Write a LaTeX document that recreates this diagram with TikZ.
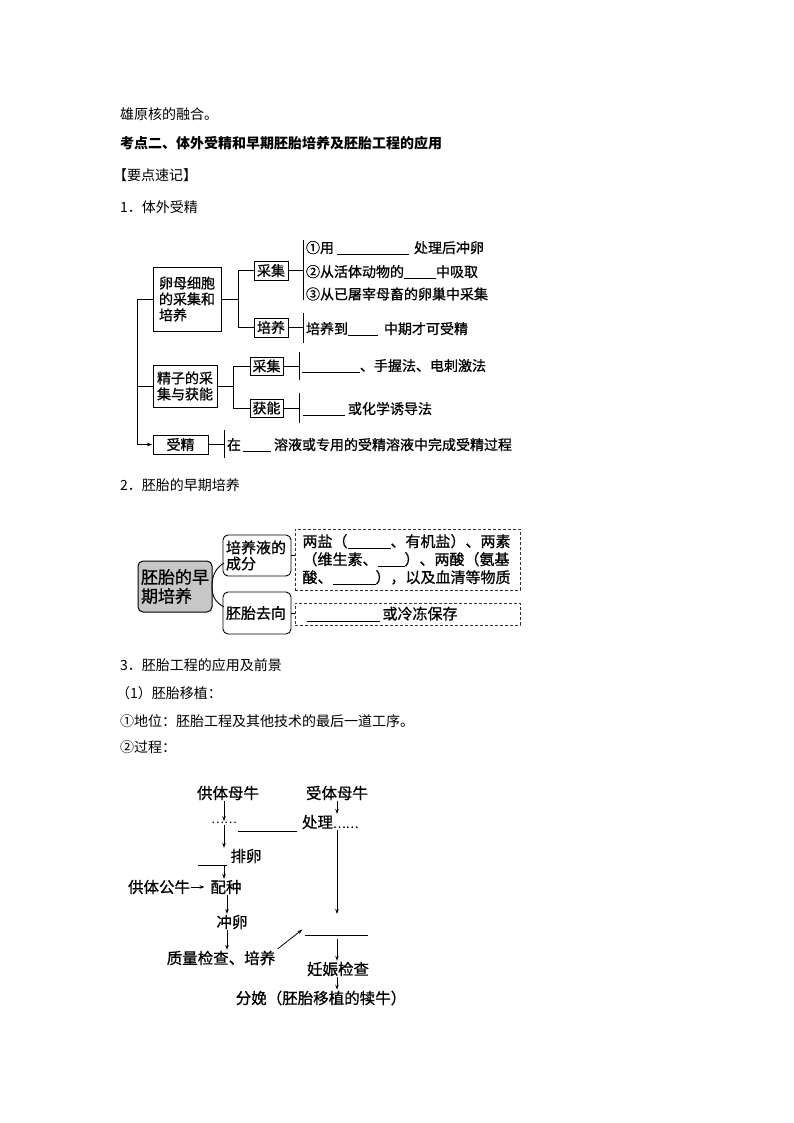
\documentclass[tikz,border=0pt]{standalone}
\usepackage{fontspec}
\setmainfont{Noto Sans CJK SC}
\newfontfamily\dgm[FakeBold=0.8]{Noto Sans CJK SC}
\usetikzlibrary{arrows.meta,calc}
\newcommand\blk[1]{\rule[-2pt]{#1pt}{0.7pt}}
\begin{document}
\begin{tikzpicture}[x=1pt,y=-1pt,
  every node/.style={inner sep=0pt,outer sep=0pt},
  ln/.style={line width=0.9pt},
  arr/.style={line width=0.8pt,-{Stealth[length=5pt,width=3.6pt]},shorten <=1pt,shorten >=1pt},
  txt/.style={anchor=west,font=\dgm\fontsize{14}{16}\selectfont},
  bodytxt/.style={anchor=west,font=\fontsize{14}{16}\selectfont},
  sbox/.style={draw,line width=0.9pt,minimum width=34pt,minimum height=19pt,font=\dgm\fontsize{14}{16}\selectfont},
  bbox/.style={draw,line width=0.9pt,align=left,font=\dgm\fontsize{14}{16}\selectfont},
  rbox/.style={draw,line width=0.9pt,rounded corners=5pt,align=left,font=\dgm\fontsize{15}{16}\selectfont},
  dbox/.style={draw=black!80,line width=0.9pt,dash pattern=on 3pt off 2pt,align=left,font=\dgm\fontsize{15}{18}\selectfont},
  ftxt/.style={font=\dgm\fontsize{15.5}{17}\selectfont},
]
\useasboundingbox (0,0) rectangle (794,1123);

% ---------- header texts ----------
\node[bodytxt] (h1) at (120,114) {雄原核的融合。};
\node[bodytxt,font=\fontsize{14}{16}\selectfont\bfseries] (h2) at (120,143) {考点二、体外受精和早期胚胎培养及胚胎工程的应用};
\node[bodytxt] (h3) at (113,175) {【要点速记】};
\node[bodytxt] (h4) at (120,207) {1．体外受精};

% ---------- diagram 1 ----------
\coordinate (tr) at (137,0);
\coordinate (b1) at (238,0);
\coordinate (b2) at (233,0);

\node[bbox,text width=56pt,inner xsep=6pt,minimum height=64pt] (lm) at (187,299) {卵母细胞\\的采集和\\培养};
\node[bbox,text width=56pt,inner xsep=4pt,minimum height=42pt] (jz) at (185,386) {精子的采\\集与获能};
\node[sbox,minimum width=55pt] (sjing) at (180.5,444.5) {受精};
\node[sbox] (cj1) at (271,270.5) {采集};
\node[sbox] (py) at (271,327.5) {培养};
\node[sbox,minimum width=33pt,minimum height=18pt] (cj2) at (266.5,366) {采集};
\node[sbox,minimum width=33pt,minimum height=18pt] (hn) at (266.5,408) {获能};

\draw[ln] (lm.west) -- (lm.west -| tr);
\draw[ln] (jz.west) -- (jz.west -| tr);
\draw[arr,shorten <=0pt] (lm.west -| tr) |- (sjing.west);
\draw[ln] (lm.east) -- (lm.east -| b1);
\draw[ln] (cj1.west) -- (cj1.west -| b1) -- (py.west -| b1) -- (py.west);
\draw[ln] (jz.east) -- (jz.east -| b2);
\draw[ln] (cj2.west) -- (cj2.west -| b2) -- (hn.west -| b2) -- (hn.west);

\coordinate (r1a) at (303,240); \coordinate (r1b) at (303,300);
\coordinate (r2a) at (303,313); \coordinate (r2b) at (303,343);
\coordinate (r3a) at (299,352); \coordinate (r3b) at (299,380);
\coordinate (r4a) at (299,393); \coordinate (r4b) at (299,423);
\coordinate (r5a) at (224,430); \coordinate (r5b) at (224,458);
\draw[ln] (r1a) -- (r1b);
\draw[ln] (r2a) -- (r2b);
\draw[ln] (r3a) -- (r3b);
\draw[ln] (r4a) -- (r4b);
\draw[ln] (r5a) -- (r5b);
\draw[ln] (cj1.east) -- (cj1.east -| r1a);
\draw[ln] (py.east) -- (py.east -| r2a);
\draw[ln] (cj2.east) -- (cj2.east -| r3a);
\draw[ln] (hn.east) -- (hn.east -| r4a);
\draw[ln] (sjing.east) -- (sjing.east -| r5a);

\node[txt] (t1) at (306,248) {①用\hspace{3pt}\blk{72}\hspace{5pt}处理后冲卵};
\node[txt] (t2) at (306,272) {②从活体动物的\blk{32}中吸取};
\node[txt] (t3) at (306,294) {③从已屠宰母畜的卵巢中采集};
\node[txt] (t4) at (306,329) {培养到\blk{30}\hspace{6pt}中期才可受精};
\node[txt] (t5) at (302,366) {\blk{58}、手握法、电刺激法};
\node[txt] (t6) at (303,409) {\blk{42}\hspace{3pt}或化学诱导法};
\node[txt] (t7) at (227,445) {在\hspace{2pt}\blk{28}\hspace{3pt}溶液或专用的受精溶液中完成受精过程};

% ---------- section 2 ----------
\node[bodytxt] (h5) at (120,485) {2．胚胎的早期培养};

\node[draw,line width=1pt,rounded corners=5pt,fill=black!22,minimum width=74pt,minimum height=51pt,text width=68pt,align=left,font=\dgm\fontsize{17}{19}\selectfont] (gb) at (175,586.5) {胚胎的早\\期培养};
\node[rbox,minimum width=68pt,minimum height=41pt,text width=62pt] (pa) at (257,555.5) {培养液的\\成分};
\node[rbox,minimum width=68pt,minimum height=42pt,text width=62pt] (pb) at (257,613) {胚胎去向};
\node[dbox,minimum width=225pt,minimum height=61pt,text width=210pt] (pc) at (407.5,559.5) {两盐（\blk{43}、有机盐）、两素\\（维生素、\blk{27}）、两酸（氨基\\酸、\blk{43}），以及血清等物质};
\node[dbox,minimum width=225pt,minimum height=22pt,text width=210pt] (pd) at (407.5,614) {\hspace{4pt}\blk{73}\hspace{3pt}或冷冻保存};

\draw[ln] (pa.east) -- (pa.east -| pc.west);
\draw[ln] (pb.east) -- (pb.east -| pd.west);
\coordinate (ca) at (224,563);
\coordinate (cb) at (224,607);
\draw[ln] (ca) .. controls (214,569) and (212,578) .. (gb.east) .. controls (212,596) and (215,602) .. (cb);

% ---------- section 3 ----------
\node[bodytxt] (h6) at (120,665) {3．胚胎工程的应用及前景};
\node[bodytxt] (h7) at (116,693) {（1）胚胎移植：};
\node[bodytxt] (h8) at (120,721) {①地位：胚胎工程及其他技术的最后一道工序。};
\node[bodytxt] (h9) at (120,747) {②过程：};

\coordinate (lc) at (224,0);
\coordinate (lc2) at (227,0);
\coordinate (rc) at (337,0);

\node[ftxt] (gm) at (228,793) {供体母牛};
\node[ftxt] (sm) at (337,793) {受体母牛};
\node[font=\fontsize{12}{14}\selectfont] (dd) at (224,823) {……};
\node[ftxt,anchor=west] (cl) at (302,822) {处理{\fontsize{12}{14}\selectfont ……}};
\coordinate (bl0a) at (238,831); \coordinate (bl0b) at (297,831);
\draw[ln] (bl0a) -- (bl0b);
\node[ftxt] (pl) at (246,856) {排卵};
\coordinate (bl1a) at (198,865); \coordinate (bl1b) at (227,865);
\draw[ln] (bl1a) -- (bl1b);
\node[ftxt] (gg) at (159,887) {供体公牛};
\node[ftxt] (pz) at (226,887) {配种};
\node[ftxt] (cl2) at (232,922) {冲卵};
\node[ftxt] (zl) at (221,958) {质量检查、培养};
\coordinate (bl2a) at (305,935); \coordinate (bl2b) at (368,935);
\draw[ln] (bl2a) -- (bl2b);
\coordinate (ar1) at (337,915);
\coordinate (ar2) at (303,929);
\node[ftxt] (rs) at (338,969) {妊娠检查};
\node[ftxt] (fm) at (321,998) {分娩（胚胎移植的犊牛）};

\draw[arr] (gm.south -| lc) -- (dd.north -| lc);
\draw[arr] (dd.south -| lc) -- (pl.north -| lc);
\draw[arr,shorten <=0pt] (bl1b -| lc) -- (pz.north -| lc);
\draw[arr,shorten >=6pt] (gg.east) -- (pz.west);
\draw[arr] (pz.south -| lc2) -- (cl2.north -| lc2);
\draw[arr] (cl2.south -| lc2) -- (zl.north -| lc2);
\draw[arr,shorten <=3pt] (zl.north east) -- (ar2);
\draw[arr] (sm.south) -- (sm.south |- cl.north);
\draw[arr] (cl.south -| rc) -- (ar1);
\draw[arr,shorten <=4pt] (bl2a -| rc) -- (rs.north -| rc);
\draw[arr] (rs.south -| rc) -- (fm.north -| rc);
\end{tikzpicture}
\end{document}
